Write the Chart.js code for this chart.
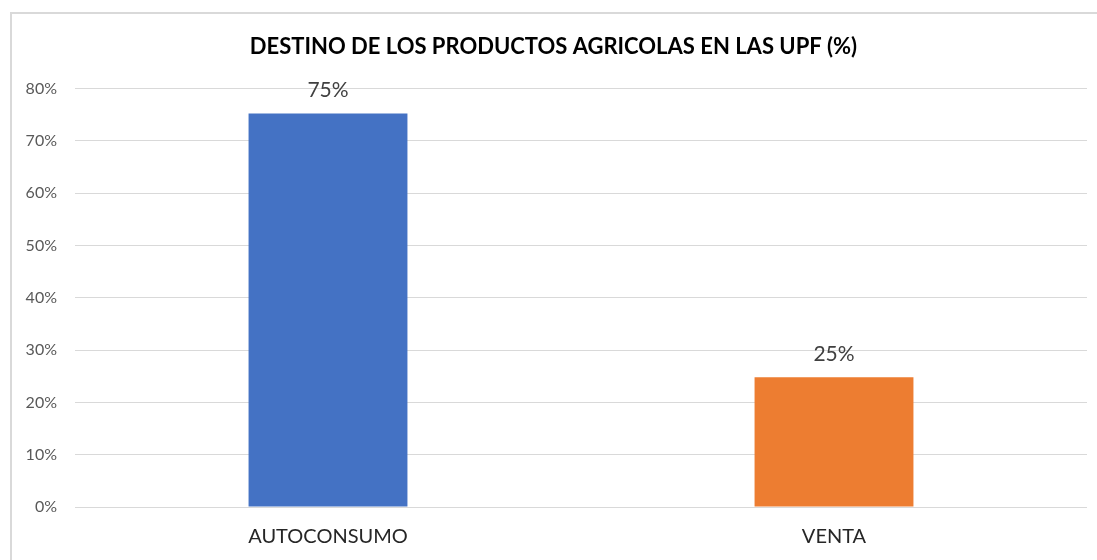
<!DOCTYPE html>
<html>
<head>
<meta charset="utf-8">
<script src="https://cdn.jsdelivr.net/npm/chart.js@4"></script>
<style>
  html, body { margin: 0; padding: 0; background: #fff; }
  #wrap { width: 1097px; height: 560px; position: relative; }
</style>
</head>
<body>
<div id="wrap"><canvas id="myChart"></canvas></div>
<script>
const categories = ['AUTOCONSUMO', 'VENTA'];
const shares = [75.2, 24.8];
const barColors = ['#4472C4', '#ED7D31'];
const yTicks = [0, 10, 20, 30, 40, 50, 60, 70, 80];

// frame around the chart like the original figure
const framePlugin = {
  id: 'frame',
  beforeDraw(chart) {
    const c = chart.ctx;
    c.save();
    c.fillStyle = '#fff';
    c.fillRect(0, 0, chart.width, chart.height);
    c.strokeStyle = '#d9d9d9';
    c.lineWidth = 2;
    c.strokeRect(11, 13, chart.width + 20, chart.height + 20);
    c.restore();
  }
};

// value labels on top of the bars
const valueLabels = {
  id: 'valueLabels',
  afterDatasetsDraw(chart) {
    const c = chart.ctx;
    const meta = chart.getDatasetMeta(0);
    c.save();
    c.font = '21px Lato, "Liberation Sans", sans-serif';
    c.fillStyle = '#404040';
    c.textAlign = 'center';
    c.textBaseline = 'middle';
    meta.data.forEach((bar, i) => {
      c.fillText(Math.round(shares[i]) + '%', bar.x, bar.y - 23);
    });
    c.restore();
  }
};

const ctx = document.getElementById('myChart');

new Chart(ctx, {
  type: 'bar',
  data: {
    labels: categories,
    datasets: [{
      data: shares,
      backgroundColor: barColors,
      categoryPercentage: 1,
      barPercentage: 0.314
    }]
  },
  options: {
    responsive: true,
    maintainAspectRatio: false,
    animation: false,
    layout: { padding: { left: 20, right: 10, top: 34, bottom: 11 } },
    plugins: {
      legend: { display: false },
      tooltip: { enabled: false },
      title: {
        display: true,
        text: 'DESTINO DE LOS PRODUCTOS AGRICOLAS EN LAS UPF (%)',
        color: '#000',
        font: { family: 'Lato, "Liberation Sans", sans-serif', size: 22, weight: 'bold' },
        padding: { top: 0, bottom: 28 }
      }
    },
    scales: {
      x: {
        afterFit(scale) { scale.height = 42; },
        grid: { display: false, drawTicks: false },
        border: { display: false },
        ticks: {
          color: '#262626',
          padding: 18,
          maxRotation: 0,
          font: { family: 'Lato, "Liberation Sans", sans-serif', size: 20 }
        }
      },
      y: {
        min: 0,
        max: 80,
        afterBuildTicks(scale) {
          scale.ticks = yTicks.map(v => ({ value: v }));
        },
        afterFit(scale) { scale.width = 55; },
        grid: { color: '#d9d9d9', lineWidth: 1, drawTicks: false },
        border: { display: false },
        ticks: {
          color: '#595959',
          padding: 18,
          font: { family: 'Lato, "Liberation Sans", sans-serif', size: 16 },
          callback: v => v + '%'
        }
      }
    }
  },
  plugins: [framePlugin, valueLabels]
});
</script>
</body>
</html>
